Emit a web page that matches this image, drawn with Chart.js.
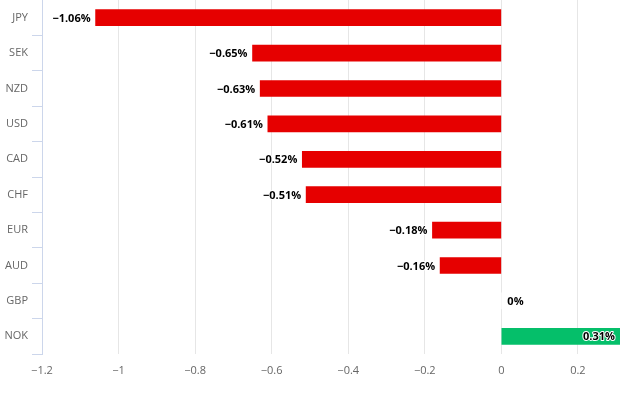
<!DOCTYPE html>
<html>
<head>
<meta charset="utf-8">
<script src="https://cdn.jsdelivr.net/npm/chart.js@4"></script>
<style>
  html, body { margin: 0; padding: 0; background: #fff; }
  #wrap { width: 625px; height: 396px; }
</style>
</head>
<body>
<div id="wrap"><canvas id="grafica" width="625" height="396"></canvas></div>
<script>
// datos de la grafica
var monedas = ['JPY', 'SEK', 'NZD', 'USD', 'CAD', 'CHF', 'EUR', 'AUD', 'GBP', 'NOK'];
var cambios = [-1.06, -0.65, -0.63, -0.61, -0.52, -0.51, -0.18, -0.16, 0, 0.31];
var ticksX = [-1.2, -1, -0.8, -0.6, -0.4, -0.2, 0, 0.2];
var minX = -1.2;
var maxX = 0.31;

var fuente = '"Open Sans", "DejaVu Sans", sans-serif';

function conMenos(v) {
    return String(v).replace('-', '\u2212');
}

// rojo si baja, verde si sube, blanco en cero
var colores = cambios.map(function (v) {
    if (v < 0) return '#e60000';
    if (v > 0) return '#05bf6a';
    return '#ffffff';
});

// etiquetas de cada barra
var etiquetas = {
    id: 'etiquetas',
    afterDatasetsDraw: function (chart) {
        var ctx = chart.ctx;
        var meta = chart.getDatasetMeta(0);
        ctx.save();
        ctx.font = 'bold 11px ' + fuente;
        ctx.textBaseline = 'middle';
        ctx.lineJoin = 'round';
        meta.data.forEach(function (bar, i) {
            var v = cambios[i];
            var txt = conMenos(v) + '%';
            var x;
            if (v === 0) {
                ctx.textAlign = 'left';
                x = bar.x + 6;
            } else {
                ctx.textAlign = 'right';
                x = bar.x - 5;
            }
            ctx.strokeStyle = '#fff';
            ctx.lineWidth = 2;
            ctx.strokeText(txt, x, bar.y + 1);
            ctx.fillStyle = '#000';
            ctx.fillText(txt, x, bar.y + 1);
        });
        ctx.restore();
    }
};

var ctx = document.getElementById('grafica').getContext('2d');
var mychart = new Chart(ctx, {
    type: 'bar',
    data: {
        labels: monedas,
        datasets: [{
            data: cambios,
            backgroundColor: colores,
            barThickness: 16,
            borderWidth: 0
        }]
    },
    options: {
        indexAxis: 'y',
        responsive: false,
        animation: false,
        layout: { padding: { left: 0, right: 5, top: 0, bottom: 0 } },
        plugins: {
            legend: { display: false },
            tooltip: { enabled: false }
        },
        scales: {
            x: {
                type: 'linear',
                min: minX,
                max: maxX,
                afterBuildTicks: function (axis) {
                    axis.ticks = ticksX.map(function (v) { return { value: v }; });
                },
                afterFit: function (axis) {
                    axis.height = 42;
                    axis.paddingLeft = 0;
                    axis.paddingRight = 0;
                },
                grid: {
                    color: '#e6e6e6',
                    lineWidth: 1,
                    drawTicks: false
                },
                border: { display: false },
                ticks: {
                    padding: 10,
                    color: '#666',
                    font: { size: 11, family: fuente },
                    callback: function (v) { return conMenos(v); }
                }
            },
            y: {
                offset: true,
                afterFit: function (axis) {
                    axis.width = 42;
                    axis.paddingTop = 0;
                    axis.paddingBottom = 0;
                },
                grid: {
                    offset: true,
                    drawOnChartArea: false,
                    color: '#ccd6eb',
                    tickLength: 10
                },
                border: { display: true, color: '#ccd6eb' },
                ticks: {
                    padding: 4,
                    color: '#666',
                    font: { size: 11, family: fuente }
                }
            }
        }
    },
    plugins: [etiquetas]
});
</script>
</body>
</html>
